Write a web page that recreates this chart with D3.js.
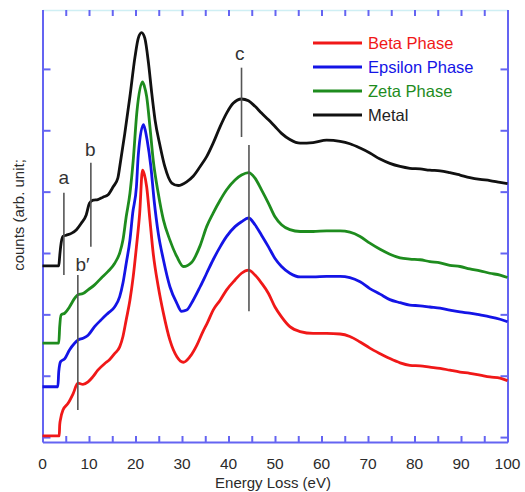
<!DOCTYPE html>
<html>
<head>
<meta charset="utf-8">
<script src="https://cdn.jsdelivr.net/npm/d3@7"></script>
<style>
  body { margin: 0; background: #fff; }
  svg { display: block; }
  text { font-family: "Liberation Sans", Arial, sans-serif; }
</style>
</head>
<body>
<div id="chart"></div>
<script>
// spectra: [energy loss (eV), counts (arb.)]
var beta = [[0,0.02],[3.6,0.02],[3.7,0.2],[3.9,0.30],[4.4,0.44],[5.5,0.55],[6.6,0.71],[7.6,0.88],[8.7,0.86],[9.8,0.90],[10.8,0.98],[11.9,1.09],[13.4,1.20],[14.4,1.26],[15.5,1.36],[16.6,1.47],[17.3,1.64],[18.0,1.91],[18.8,2.23],[19.5,2.61],[20.2,3.10],[20.9,3.65],[21.5,4.35],[21.9,4.28],[22.4,4.08],[23.1,3.54],[23.8,3.0],[24.9,2.45],[26.0,2.02],[27.4,1.58],[28.9,1.31],[30.3,1.22],[31.7,1.31],[33.2,1.50],[34.5,1.72],[35.5,1.87],[36.7,2.07],[38.2,2.23],[39.6,2.40],[41.4,2.56],[42.8,2.67],[44.3,2.72],[45.7,2.64],[47.1,2.51],[48.6,2.34],[50.0,2.12],[51.4,1.96],[53.2,1.80],[55.4,1.72],[58.2,1.69],[61.1,1.69],[64.0,1.68],[66.1,1.64],[68.3,1.55],[70.4,1.45],[72.6,1.36],[74.7,1.28],[76.9,1.21],[79.0,1.17],[81.2,1.16],[83.3,1.14],[85.5,1.12],[87.6,1.09],[89.8,1.06],[91.9,1.04],[94.1,1.01],[96.2,0.98],[98.4,0.96],[100,0.92]];

var epsilon = [[0,0.82],[3.3,0.82],[3.5,1.07],[3.9,1.23],[4.8,1.28],[5.8,1.42],[6.9,1.53],[7.6,1.58],[8.7,1.61],[9.8,1.66],[11.2,1.80],[12.6,1.91],[14.1,2.02],[15.5,2.12],[16.6,2.29],[17.3,2.51],[18.0,2.83],[18.8,3.21],[19.4,3.65],[20.2,4.08],[20.6,4.60],[21.7,5.09],[22.1,5.00],[22.5,4.84],[23.3,4.41],[24.0,3.86],[24.9,3.32],[26.0,2.89],[27.4,2.45],[28.9,2.18],[29.9,2.05],[31.0,2.07],[32.4,2.23],[33.9,2.45],[35.3,2.67],[36.7,2.89],[38.2,3.10],[39.6,3.27],[41.4,3.43],[42.8,3.51],[44.3,3.57],[45.7,3.46],[47.1,3.29],[48.6,3.10],[50.0,2.91],[51.4,2.78],[53.2,2.67],[55.4,2.61],[58.2,2.61],[61.1,2.62],[64.0,2.62],[66.1,2.60],[68.3,2.53],[70.4,2.42],[72.6,2.33],[74.7,2.24],[76.9,2.19],[79.0,2.15],[81.2,2.14],[83.3,2.12],[85.5,2.10],[87.6,2.07],[89.8,2.04],[91.9,2.02],[94.1,1.99],[96.2,1.96],[98.4,1.92],[100,1.88]];

var zeta = [[0,1.53],[3.5,1.53],[3.7,1.80],[4.0,1.99],[4.8,2.02],[5.8,2.12],[6.9,2.26],[7.6,2.32],[8.7,2.34],[9.8,2.40],[11.2,2.48],[12.6,2.59],[14.1,2.70],[15.5,2.83],[16.6,3.0],[17.3,3.21],[18.0,3.59],[18.8,3.97],[19.5,4.5],[20.3,5.30],[21.5,5.79],[21.9,5.72],[22.4,5.55],[23.1,5.06],[23.8,4.52],[24.9,3.97],[26.0,3.54],[27.4,3.21],[28.9,2.94],[30.3,2.78],[32.1,2.85],[33.9,3.12],[35.3,3.43],[36.7,3.65],[38.2,3.86],[39.6,4.03],[41.4,4.19],[42.8,4.27],[44.3,4.31],[45.7,4.22],[47.1,4.03],[48.6,3.81],[50.0,3.59],[51.4,3.46],[53.2,3.38],[55.4,3.35],[58.2,3.35],[61.1,3.36],[64.0,3.36],[66.1,3.34],[68.3,3.27],[70.4,3.16],[72.6,3.06],[74.7,2.98],[76.9,2.92],[79.0,2.90],[81.2,2.89],[83.3,2.86],[85.5,2.84],[87.6,2.80],[89.8,2.78],[91.9,2.74],[94.1,2.71],[96.2,2.67],[98.4,2.64],[100,2.60]];

var metal = [[0,2.79],[3.5,2.79],[3.7,2.95],[3.9,3.10],[4.4,3.27],[5.1,3.29],[6.2,3.32],[7.3,3.38],[8.3,3.48],[9.4,3.62],[10.1,3.81],[10.9,3.86],[11.9,3.87],[13.0,3.91],[14.1,3.95],[15.2,4.08],[16.2,4.22],[16.7,4.45],[17.7,4.95],[18.8,5.55],[19.9,6.20],[20.6,6.50],[21.3,6.59],[22.0,6.50],[22.8,6.09],[23.5,5.60],[24.2,5.17],[25.3,4.74],[26.3,4.41],[27.8,4.14],[29.2,4.10],[31.0,4.16],[32.4,4.25],[33.9,4.41],[35.3,4.57],[36.7,4.79],[38.2,5.06],[39.6,5.28],[41.0,5.44],[42.8,5.51],[44.3,5.48],[45.7,5.39],[47.1,5.28],[48.6,5.17],[50.0,5.06],[51.4,4.95],[53.2,4.85],[55.4,4.79],[58.2,4.80],[61.1,4.84],[64.0,4.82],[66.1,4.78],[68.3,4.71],[70.4,4.63],[72.6,4.53],[74.7,4.46],[76.9,4.41],[79.0,4.38],[81.2,4.37],[83.3,4.35],[85.5,4.34],[87.6,4.31],[89.8,4.27],[91.9,4.23],[94.1,4.20],[96.2,4.18],[98.4,4.15],[100,4.13]];

var seriesNames = ["Beta Phase", "Epsilon Phase", "Zeta Phase", "Metal"];
var seriesData = [beta, epsilon, zeta, metal];
var seriesColors = ["#f01818", "#1414e6", "#1e8c1e", "#111111"];

// x ticks every 5 eV, labels every 10
var xTicks = d3.range(0, 101, 5);
var xLabels = d3.range(0, 101, 10);
var yTicks = [0, 1, 2, 3, 4, 5, 6];

// peak marker lines: energy, from, to (counts)
var markerE = [4.6, 10.4, 7.6, 42.8, 44.4];
var markerLo = [2.64, 3.10, 0.44, 4.89, 2.05];
var markerHi = [3.98, 4.47, 2.64, 6.02, 4.76];
// marker letters
var labelText = ["a", "b", "b\u2032", "c"];
var labelE = [4.6, 10.3, 8.6, 42.4];
var labelY = [4.12, 4.58, 2.70, 6.14];

var width = 525, height = 492;

var svg = d3.select("#chart")
    .append("svg")
    .attr("width", width)
    .attr("height", height);

var x = d3.scaleLinear()
    .domain([0, 100])
    .range([42.5, 507.5]);

var y = d3.scaleLinear()
    .domain([-0.08, 6.96])
    .range([442, 10]);

var axisBlue = "#6464f2";

// top axis (light frame line, blue ticks)
var gTop = svg.append("g")
    .attr("transform", "translate(0," + y(6.96) + ")")
    .call(d3.axisTop(x).tickValues(xTicks).tickSizeInner(-6).tickSizeOuter(0).tickFormat(""));
gTop.select(".domain").attr("stroke", "#cfeff4").attr("stroke-width", 1.5);
gTop.selectAll(".tick line").attr("stroke", axisBlue).attr("stroke-width", 2);

// bottom axis
var gBottom = svg.append("g")
    .attr("transform", "translate(0," + y(-0.08) + ")")
    .call(d3.axisBottom(x).tickValues(xTicks).tickSizeInner(-6).tickSizeOuter(0).tickFormat(""));
gBottom.select(".domain").attr("stroke", axisBlue).attr("stroke-width", 2);
gBottom.selectAll(".tick line").attr("stroke", axisBlue).attr("stroke-width", 2);

// left axis
var gLeft = svg.append("g")
    .attr("transform", "translate(" + x(0) + ",0)")
    .call(d3.axisLeft(y).tickValues(yTicks).tickSizeInner(-8).tickSizeOuter(0).tickFormat(""));
gLeft.select(".domain").attr("stroke", axisBlue).attr("stroke-width", 2);
gLeft.selectAll(".tick line").attr("stroke", axisBlue).attr("stroke-width", 2);

// right axis
var gRight = svg.append("g")
    .attr("transform", "translate(" + x(100) + ",0)")
    .call(d3.axisRight(y).tickValues(yTicks).tickSizeInner(-7).tickSizeOuter(0).tickFormat(""));
gRight.select(".domain").attr("stroke", axisBlue).attr("stroke-width", 2);
gRight.selectAll(".tick line").attr("stroke", axisBlue).attr("stroke-width", 2);

// x tick labels
svg.append("g")
    .selectAll("text")
    .data(xLabels)
    .enter()
    .append("text")
    .attr("x", function (d) { return x(d); })
    .attr("y", 469)
    .attr("text-anchor", "middle")
    .attr("font-size", 15.5)
    .attr("fill", "#2b2b2b")
    .text(function (d) { return d; });

svg.append("text")
    .attr("x", 273)
    .attr("y", 488)
    .attr("text-anchor", "middle")
    .attr("font-size", 15)
    .attr("fill", "#2b2b2b")
    .text("Energy Loss (eV)");

svg.append("text")
    .attr("transform", "translate(24,215) rotate(-90)")
    .attr("text-anchor", "middle")
    .attr("font-size", 15)
    .attr("fill", "#2b2b2b")
    .text("counts (arb. unit;");

// spectra
var line = d3.line()
    .x(function (d) { return x(d[0]); })
    .y(function (d) { return y(d[1]); })
    .curve(d3.curveMonotoneX);

svg.append("g")
    .selectAll("path")
    .data(seriesData)
    .enter()
    .append("path")
    .attr("fill", "none")
    .attr("stroke", function (d, i) { return seriesColors[i]; })
    .attr("stroke-width", 2.8)
    .attr("stroke-linejoin", "round")
    .attr("d", line);

// marker lines
svg.append("g")
    .selectAll("line")
    .data(markerE)
    .enter()
    .append("line")
    .attr("x1", function (d) { return x(d); })
    .attr("x2", function (d) { return x(d); })
    .attr("y1", function (d, i) { return y(markerLo[i]); })
    .attr("y2", function (d, i) { return y(markerHi[i]); })
    .attr("stroke", "#555")
    .attr("stroke-width", 1.6);

svg.append("g")
    .selectAll("text")
    .data(labelText)
    .enter()
    .append("text")
    .attr("x", function (d, i) { return x(labelE[i]); })
    .attr("y", function (d, i) { return y(labelY[i]); })
    .attr("text-anchor", "middle")
    .attr("font-size", 19)
    .attr("fill", "#333")
    .text(function (d) { return d; });

// legend
var legend = svg.append("g")
    .selectAll("g")
    .data(seriesNames)
    .enter()
    .append("g")
    .attr("transform", function (d, i) { return "translate(313," + (43 + i * 24) + ")"; });

legend.append("line")
    .attr("x1", 0)
    .attr("x2", 49)
    .attr("stroke", function (d, i) { return seriesColors[i]; })
    .attr("stroke-width", 3);

legend.append("text")
    .attr("x", 55)
    .attr("y", 6)
    .attr("font-size", 16.5)
    .attr("fill", function (d, i) { return i == 3 ? "#222" : seriesColors[i]; })
    .text(function (d) { return d; });
</script>
</body>
</html>
